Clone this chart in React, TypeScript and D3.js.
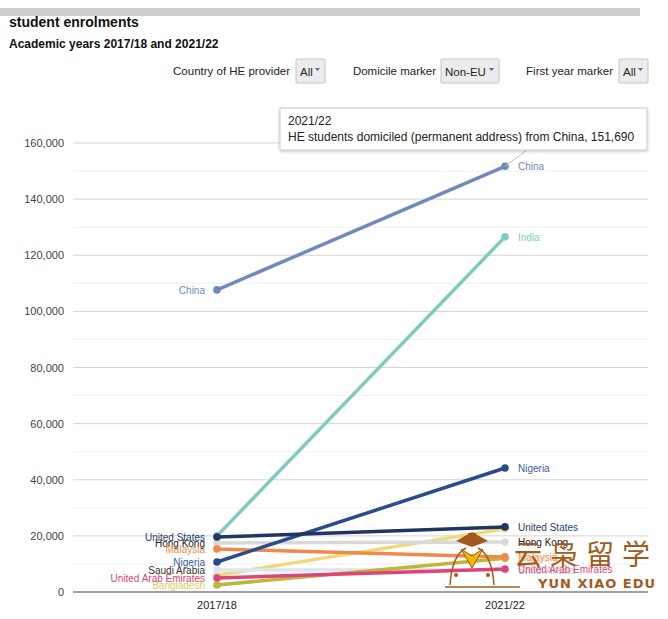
import React from 'react';
import * as d3 from 'd3';

const years = ['2017/18', '2021/22'];
const countries = ['India', 'Pakistan', 'Saudi Arabia', 'Hong Kong', 'Bangladesh', 'United Arab Emirates', 'Malaysia', 'Nigeria', 'United States', 'China'];
const values1718 = [20000, 6000, 7800, 17500, 2500, 5000, 15300, 10700, 19600, 107660];
const values2122 = [126560, 22500, 7900, 17800, 12000, 8200, 12500, 44200, 23200, 151690];
const lineColors = ['#80cbbd', '#f0d97a', '#dfe5ef', '#d9d9d9', '#bfb53c', '#df4479', '#ef8a4a', '#2b4b8e', '#1f3562', '#7189c0'];
const labelColors = ['#80cbbd', '#e9d37a', '#333333', '#222222', '#d8cd5a', '#df4479', '#ef8a4a', '#3b5ba0', '#2a4270', '#7189c0'];
// opacity of each label at 2017/18 and 2021/22 (labels hidden behind neighbours are faint)
const labelOpacity1718 = [0.35, 0.25, 1, 1, 1, 1, 1, 1, 1, 1];
const labelOpacity2122 = [1, 0.3, 0.3, 1, 0.35, 1, 1, 1, 1, 1];
const yTicks = [0, 20000, 40000, 60000, 80000, 100000, 120000, 140000, 160000];
const minorTicks = [10000, 30000, 50000, 70000, 90000, 110000, 130000, 150000];

const FONT = "Arial, 'Liberation Sans', sans-serif";

export default function App() {
  const W = 668, H = 619;
  const left = 73, right = 648;
  const y = d3.scaleLinear().domain([0, 160000]).range([592, 143]);
  const x = d3.scalePoint<string>().domain(years).range([217, 505]);
  const fmt = d3.format(',');
  const line = d3.line<[number, number]>().x(d => d[0]).y(d => d[1]);

  const controls = [
    { label: 'Country of HE provider', lx: 290, bx: 296, bw: 29, val: 'All' },
    { label: 'Domicile marker', lx: 436, bx: 441, bw: 58, val: 'Non-EU' },
    { label: 'First year marker', lx: 613, bx: 619, bw: 29, val: 'All' },
  ];

  return (
    <svg width={W} height={H} style={{ position: 'absolute', left: 0, top: 0, background: '#fff' }} fontFamily={FONT}>
      <defs>
        <filter id="sh" x="-10%" y="-30%" width="120%" height="160%">
          <feDropShadow dx="0" dy="1" stdDeviation="1.5" floodColor="#000" floodOpacity="0.25" />
        </filter>
      </defs>
      <rect x={0} y={8} width={640} height={8} fill="#cfcfcf" />
      <text x={9} y={27} fontSize={14} fontWeight="bold" fill="#111">student enrolments</text>
      <text x={9} y={48} fontSize={12} fontWeight="bold" fill="#111">Academic years 2017/18 and 2021/22</text>

      {controls.map(c => (
        <g key={c.label}>
          <text x={c.lx} y={75} fontSize={11.5} textAnchor="end" fill="#222">{c.label}</text>
          <rect x={c.bx} y={59} width={c.bw} height={24} fill="#ececec" stroke="#c4c4c4" rx={1} />
          <text x={c.bx + 4} y={76} fontSize={11.5} fill="#222">{c.val}</text>
          <path d={`M${c.bx + c.bw - 10},68 l5,0 l-2.5,3 z`} fill="#3a6fb8" />
        </g>
      ))}

      {minorTicks.map(t => (
        <line key={'m' + t} x1={left} x2={right} y1={y(t)} y2={y(t)} stroke="#efefef" />
      ))}
      {yTicks.map(t => (
        <g key={t}>
          <line x1={left} x2={right} y1={y(t)} y2={y(t)} stroke={t === 0 ? '#444' : '#d4d4d4'} strokeWidth={t === 0 ? 1.2 : 1} />
          <text x={64} y={y(t) + 4} fontSize={11} textAnchor="end" fill="#444">{fmt(t)}</text>
        </g>
      ))}
      {years.map(yr => (
        <text key={yr} x={x(yr)} y={609} fontSize={11} textAnchor="middle" fill="#222">{yr}</text>
      ))}

      {countries.map((c, i) => {
        const p: [number, number][] = [[x(years[0])!, y(values1718[i])], [x(years[1])!, y(values2122[i])]];
        return (
          <g key={c}>
            <path d={line(p)!} stroke={lineColors[i]} strokeWidth={3.5} fill="none" />
            {p.map((pt, j) => <circle key={j} cx={pt[0]} cy={pt[1]} r={3.8} fill={lineColors[i]} />)}
          </g>
        );
      })}
      {countries.map((c, i) => (
        <g key={'l' + c}>
          <text x={x(years[0])! - 12} y={y(values1718[i]) + 4} fontSize={10} textAnchor="end" fill={labelColors[i]} opacity={labelOpacity1718[i]}>{c}</text>
          <text x={x(years[1])! + 13} y={y(values2122[i]) + 4} fontSize={10} textAnchor="start" fill={labelColors[i]} opacity={labelOpacity2122[i]}>{c}</text>
        </g>
      ))}

      <line x1={527} y1={150} x2={x(years[1])!} y2={y(values2122[9])} stroke="#bbb" />
      <rect x={280} y={108} width={367} height={42} fill="#fff" stroke="#ccc" filter="url(#sh)" />
      <text x={288} y={125} fontSize={12} fill="#222">2021/22</text>
      <text x={288} y={141} fontSize={12} fill="#222">HE students domiciled (permanent address) from China, {fmt(values2122[9])}</text>

      <g>
        <path d="M456,541 l16,-9 l16,9 l-16,6 z" fill="#a35a21" />
        <rect x={468} y={533} width={8} height={6} fill="#a35a21" />
        <path d="M461,549 l11,19 l11,-19 l-11,7 z" fill="#f2b705" stroke="#a35a21" strokeWidth={1} />
        <path d="M450,585 q2,-30 16,-37" fill="none" stroke="#a35a21" strokeWidth={1.5} />
        <path d="M494,585 q-2,-30 -16,-37" fill="none" stroke="#a35a21" strokeWidth={1.5} />
        <circle cx={456} cy={575} r={2} fill="#a35a21" />
        <circle cx={488} cy={575} r={2} fill="#a35a21" />
        <line x1={445} y1={587} x2={520} y2={587} stroke="#a35a21" strokeWidth={1.5} />
      </g>
      <g fill="#a35a21">
        <text x={514} y={565} fontSize={28} fontFamily="'Noto Sans CJK SC', sans-serif" letterSpacing={8}>云枭留学</text>
        <text x={538} y={588} fontSize={13} fontWeight="bold" fontFamily="'DejaVu Sans', sans-serif" letterSpacing={1}>YUN XIAO EDU</text>
      </g>
    </svg>
  );
}
